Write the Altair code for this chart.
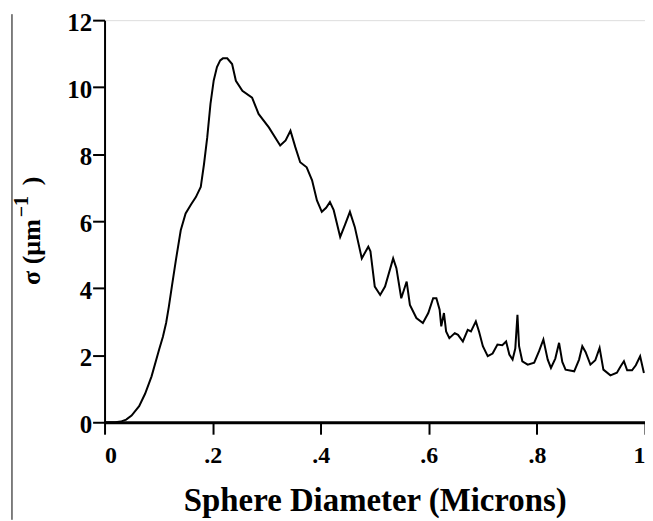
import altair as alt
import pandas as pd

diameter = [0.0, 0.02, 0.03, 0.04, 0.05, 0.064, 0.075, 0.087, 0.101, 0.108, 0.114, 0.119,
            0.125, 0.132, 0.141, 0.150, 0.160, 0.169, 0.178, 0.184, 0.190, 0.196, 0.202,
            0.208, 0.214, 0.219, 0.227, 0.236, 0.243, 0.255, 0.273, 0.285, 0.304, 0.325,
            0.335, 0.344, 0.353, 0.362, 0.374, 0.384, 0.393, 0.402, 0.410, 0.417, 0.424,
            0.436, 0.445, 0.454, 0.463, 0.476, 0.488, 0.492, 0.500, 0.510, 0.519, 0.534,
            0.540, 0.549, 0.559, 0.565, 0.577, 0.589, 0.599, 0.608, 0.614, 0.620, 0.623,
            0.628, 0.632, 0.638, 0.648, 0.654, 0.663, 0.672, 0.678, 0.687, 0.693, 0.700,
            0.709, 0.718, 0.727, 0.736, 0.743, 0.749, 0.755, 0.760, 0.764, 0.767, 0.773,
            0.783, 0.795, 0.804, 0.812, 0.820, 0.826, 0.834, 0.841, 0.847, 0.853, 0.869,
            0.878, 0.884, 0.890, 0.899, 0.908, 0.916, 0.923, 0.936, 0.948, 0.955, 0.961,
            0.967, 0.976, 0.983, 0.991, 0.998]
sigma = [0.0, 0.0, 0.02, 0.08, 0.2, 0.48, 0.85, 1.37, 2.17, 2.55, 2.97, 3.45,
         4.10, 4.84, 5.73, 6.23, 6.50, 6.72, 7.02, 7.70, 8.50, 9.50, 10.20,
         10.60, 10.80, 10.86, 10.86, 10.69, 10.19, 9.89, 9.69, 9.20, 8.80, 8.26,
         8.41, 8.70, 8.21, 7.76, 7.61, 7.22, 6.62, 6.28, 6.40, 6.57, 6.33,
         5.53, 5.90, 6.28, 5.83, 4.89, 5.24, 5.10, 4.05, 3.80, 4.05, 4.89,
         4.60, 3.70, 4.20, 3.50, 3.11, 2.96, 3.26, 3.70, 3.70, 3.36, 2.86,
         3.26, 2.71, 2.51, 2.66, 2.61, 2.41, 2.76, 2.71, 3.01, 2.70, 2.27,
         1.97, 2.05, 2.32, 2.30, 2.41, 2.02, 1.87, 2.20, 3.21, 2.27, 1.82,
         1.72, 1.78, 2.12, 2.47, 1.87, 1.62, 1.90, 2.37, 1.80, 1.57, 1.52,
         1.87, 2.27, 2.10, 1.72, 1.85, 2.22, 1.57, 1.40, 1.48, 1.67, 1.82,
         1.55, 1.55, 1.70, 1.97, 1.47]

x_ticks = [0, 0.2, 0.4, 0.6, 0.8, 1.0]
y_ticks = [0, 2, 4, 6, 8, 10, 12]
x_title = "Sphere Diameter (Microns)"
y_title_main = ["σ (µm"]
y_title_sup = ["−1"]
y_title_end = [")"]

df = pd.DataFrame({"d": diameter, "s": sigma})

FONT = "Liberation Serif"

line = alt.Chart(df).mark_line(color="black", strokeWidth=2).encode(
    x=alt.X(
        "d:Q",
        scale=alt.Scale(domain=[0, 1], nice=False, zero=False),
        axis=alt.Axis(
            values=x_ticks,
            title=x_title,
            labelExpr="datum.value == 0 ? '0' : datum.value == 1 ? '1' : replace(format(datum.value, '.1f'), '0.', '.')",
            grid=False,
            domainColor="black",
            domainWidth=3,
            tickColor="black",
            tickWidth=2,
            tickSize=12,
            labelBaseline="alphabetic",
            labelPadding=28,
            labelFont=FONT,
            labelFontSize=24,
            labelFontWeight="bold",
            labelColor="black",
            titleFont=FONT,
            titleFontSize=33,
            titleFontWeight="bold",
            titleColor="black",
            titleBaseline="alphabetic",
            titleY=89,
        ),
    ),
    y=alt.Y(
        "s:Q",
        scale=alt.Scale(domain=[0, 12], nice=False),
        axis=alt.Axis(
            values=y_ticks,
            title=None,
            grid=False,
            domainColor="black",
            domainWidth=2,
            tickColor="black",
            tickWidth=2,
            tickSize=12,
            labelPadding=1,
            labelOffset=2,
            labelFont=FONT,
            labelFontSize=25,
            labelFontWeight="bold",
            labelColor="black",
        ),
    ),
)


def title_part(parts, size, x, y):
    return alt.Chart(pd.DataFrame({"t": parts})).mark_text(
        font=FONT, fontSize=size, fontWeight="bold", color="black",
        angle=270, align="left", baseline="alphabetic",
    ).encode(text="t:N", x=alt.value(x), y=alt.value(y))


ytitle = (
    title_part(y_title_main, 26, -65, 266)
    + title_part(y_title_sup, 20, -77, 198)
    + title_part(y_title_end, 26, -65, 166)
)

edge = alt.Chart(pd.DataFrame({"k": [0]})).mark_rule(color="black", strokeWidth=1).encode(
    x=alt.value(-93), y=alt.value(-6), y2=alt.value(502)
)

chart = (line + ytitle + edge).properties(
    width=543,
    height=404,
    autosize=alt.AutoSizeParams(type="none"),
    padding={"left": 97, "top": 11, "right": 0, "bottom": 98},
).configure_view(stroke="black", strokeWidth=2).configure(background="white")

chart.save("out.html", embed_options={"renderer": "svg", "actions": False})
